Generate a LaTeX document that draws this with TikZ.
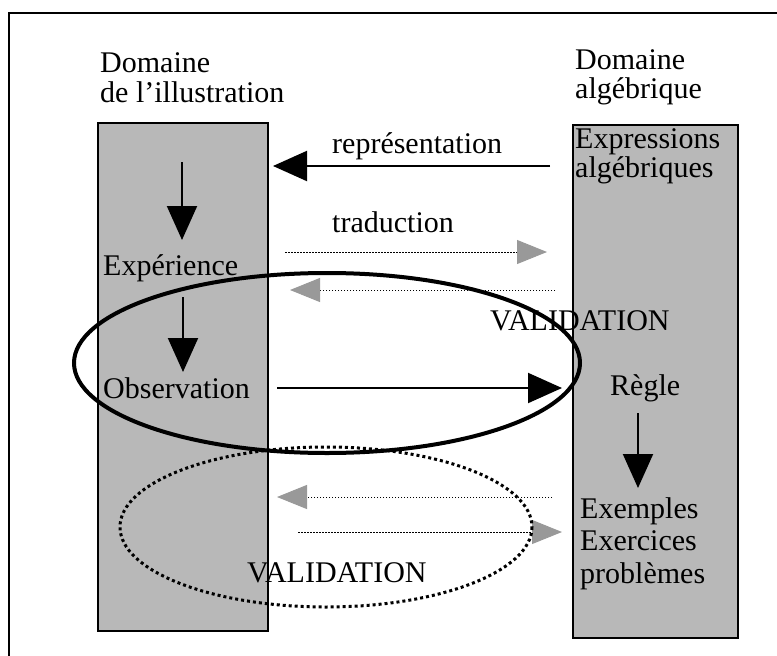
\documentclass[tikz,border=0pt]{standalone}
\usepackage{fontspec}
\setmainfont{Liberation Serif}
\usetikzlibrary{arrows.meta, positioning}

\begin{document}
\begin{tikzpicture}[
    x=1pt, y=-1pt,
    txt/.style={font=\fontsize{30}{30}\selectfont, anchor=base west, inner sep=0pt, align=left},
    dombox/.style={draw, line width=2pt, fill=black!28, anchor=north west, inner sep=0pt},
    arrow/.style={-{Triangle[length=34pt, width=30pt]}, line width=2pt},
    dotarrow/.style={-{Triangle[length=30pt, width=24pt, color=black!40]}, line width=1pt, dash pattern=on 1.5pt off 1.5pt}
]
\useasboundingbox (0,0) rectangle (777,656);
\draw[line width=2.5pt] (9,656) -- (9,13) -- (777,13);

\node[dombox, minimum width=170pt, minimum height=508pt] (illus) at (97,122) {};
\node[dombox, minimum width=165pt, minimum height=513pt] (alg) at (572,124) {};

% multi-line texts sit on the baseline of their last line
\node[txt] (illustitle) at (100,102) {Domaine\\de l'illustration};
\node[txt, font=\fontsize{30}{29}\selectfont] (algtitle) at (575,98) {Domaine\\alg\'ebrique};
\node[txt, font=\fontsize{30}{26}\selectfont] (expr) at (575,177) {Expressions\\alg\'ebriques};
\node[txt] (repr) at (332,153) {repr\'esentation};
\node[txt] (trad) at (332,232) {traduction};
\node[txt] (exper) at (103,275) {Exp\'erience};
\node[txt] (valida) at (490,330) {VALIDATION};
\node[txt] (obs) at (103,398) {Observation};
\node[txt] (regle) at (610,395) {R\`egle};
\node[txt, font=\fontsize{30}{32.5}\selectfont] (exemples) at (580,583) {Exemples\\Exercices\\probl\`emes};
\node[txt] (validb) at (247,582) {VALIDATION};

% ends of the connectors
\coordinate (topL) at (182,162);
\coordinate (topR) at (182,240);
\coordinate (reprS) at (550,166);
\coordinate (reprE) at (273,166);
\coordinate (tradS) at (285,252);
\coordinate (tradE) at (547,252);
\coordinate (backS) at (555,290);
\coordinate (backE) at (290,290);
\coordinate (experS) at (183,297);
\coordinate (experE) at (183,372);
\coordinate (obsS) at (277,388);
\coordinate (obsE) at (562,388);
\coordinate (regleS) at (638,413);
\coordinate (regleE) at (638,488);
\coordinate (exLS) at (552,497);
\coordinate (exLE) at (277,497);
\coordinate (exRS) at (298,532);
\coordinate (exRE) at (562,532);

\draw[arrow] (topL) -- (topR);
\draw[arrow] (reprS) -- (reprE);
\draw[dotarrow] (tradS) -- (tradE);
\draw[dotarrow] (backS) -- (backE);
\draw[arrow] (experS) -- (experE);
\draw[arrow] (obsS) -- (obsE);
\draw[arrow] (regleS) -- (regleE);
\draw[dotarrow] (exLS) -- (exLE);
\draw[dotarrow] (exRS) -- (exRE);

% validation loops
\draw[line width=4pt] (327,363) ellipse [x radius=253, y radius=90];
\draw[line width=3pt, dash pattern=on 3pt off 3pt] (326,527) ellipse [x radius=206, y radius=80];
\end{tikzpicture}
\end{document}
